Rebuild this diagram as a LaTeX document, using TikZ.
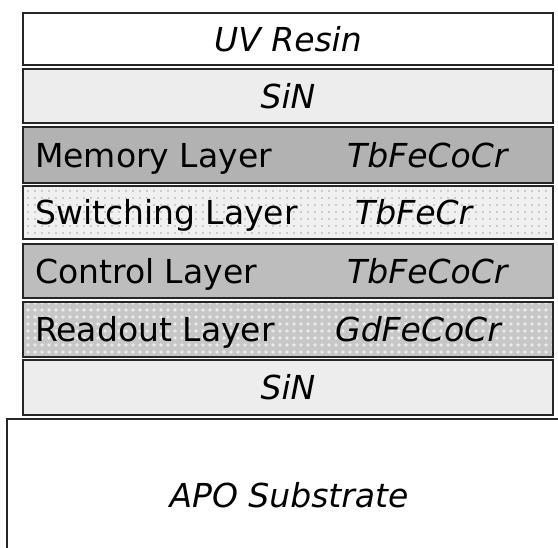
\documentclass[tikz,border=0pt]{standalone}
\usepackage{fontspec}
\setmainfont{DejaVu Sans}
\usetikzlibrary{patterns.meta}
\definecolor{sinfill}{gray}{0.93}
\definecolor{memfill}{gray}{0.70}
\definecolor{swfill}{gray}{0.94}
\definecolor{ctlfill}{gray}{0.74}
\definecolor{rdfill}{gray}{0.78}
\definecolor{edge}{gray}{0.15}
\begin{document}
\begin{tikzpicture}[x=1pt,y=-1pt,
  layerbox/.style={draw=edge, line width=1.6pt, inner sep=0pt, outer sep=0pt, anchor=north west, minimum width=530pt},
  edgeline/.style={draw=edge, line width=1.6pt},
  swtex/.style={postaction={pattern={Dots[distance=7pt,radius=0.9pt]}, pattern color=gray!70}},
  rdtex/.style={postaction={pattern={Dots[distance=7pt,radius=1.8pt]}, pattern color=white!92!black}},
  lbl/.style={anchor=base west, inner sep=0pt, font=\fontsize{33}{36}\selectfont},
  mat/.style={anchor=base west, inner sep=0pt, font=\fontsize{33}{36}\selectfont\itshape},
  ctr/.style={anchor=base, inner sep=0pt, font=\fontsize{33}{36}\selectfont\itshape}]
\useasboundingbox (0,0) rectangle (558,548);
\fill[white] (0,0) rectangle (558,548);
% layers
\node[layerbox, fill=white,   minimum height=52pt] (uv)  at (23,13)  {};
\node[layerbox, fill=sinfill, minimum height=54pt] (sin1) at (23,69)  {};
\node[layerbox, fill=memfill, minimum height=56pt] (mem) at (23,127) {};
\node[layerbox, fill=swfill, swtex, minimum height=53pt] (sw)  at (23,186) {};
\node[layerbox, fill=ctlfill, minimum height=54pt] (ctl) at (23,244) {};
\node[layerbox, fill=rdfill, rdtex, minimum height=55pt] (rd)  at (23,302) {};
\node[layerbox, fill=sinfill, minimum height=55pt] (sin2) at (23,360) {};
\node[layerbox, fill=white, minimum width=600pt, minimum height=160pt] (sub) at (7,419) {};
% restore borders over the textures
\draw[edgeline] (sw.north west) rectangle (sw.south east);
\draw[edgeline] (rd.north west) rectangle (rd.south east);
% texts
\node[ctr] (tuv) at (288,52) {UV Resin};
\node[ctr] (tsin1) at (288,109) {SiN};
\node[lbl] (tmem) at (35,168) {Memory Layer};
\node[mat] (mmem) at (347,168) {TbFeCoCr};
\node[lbl] (tsw) at (35,225) {Switching Layer};
\node[mat] (msw) at (355,225) {TbFeCr};
\node[lbl] (tctl) at (35,284) {Control Layer};
\node[mat] (mctl) at (347,284) {TbFeCoCr};
\node[lbl] (trd) at (35,342) {Readout Layer};
\node[mat] (mrd) at (335,342) {GdFeCoCr};
\node[ctr] (tsin2) at (288,400) {SiN};
\node[ctr] (tsub) at (289,508) {APO Substrate};
\end{tikzpicture}
\end{document}
